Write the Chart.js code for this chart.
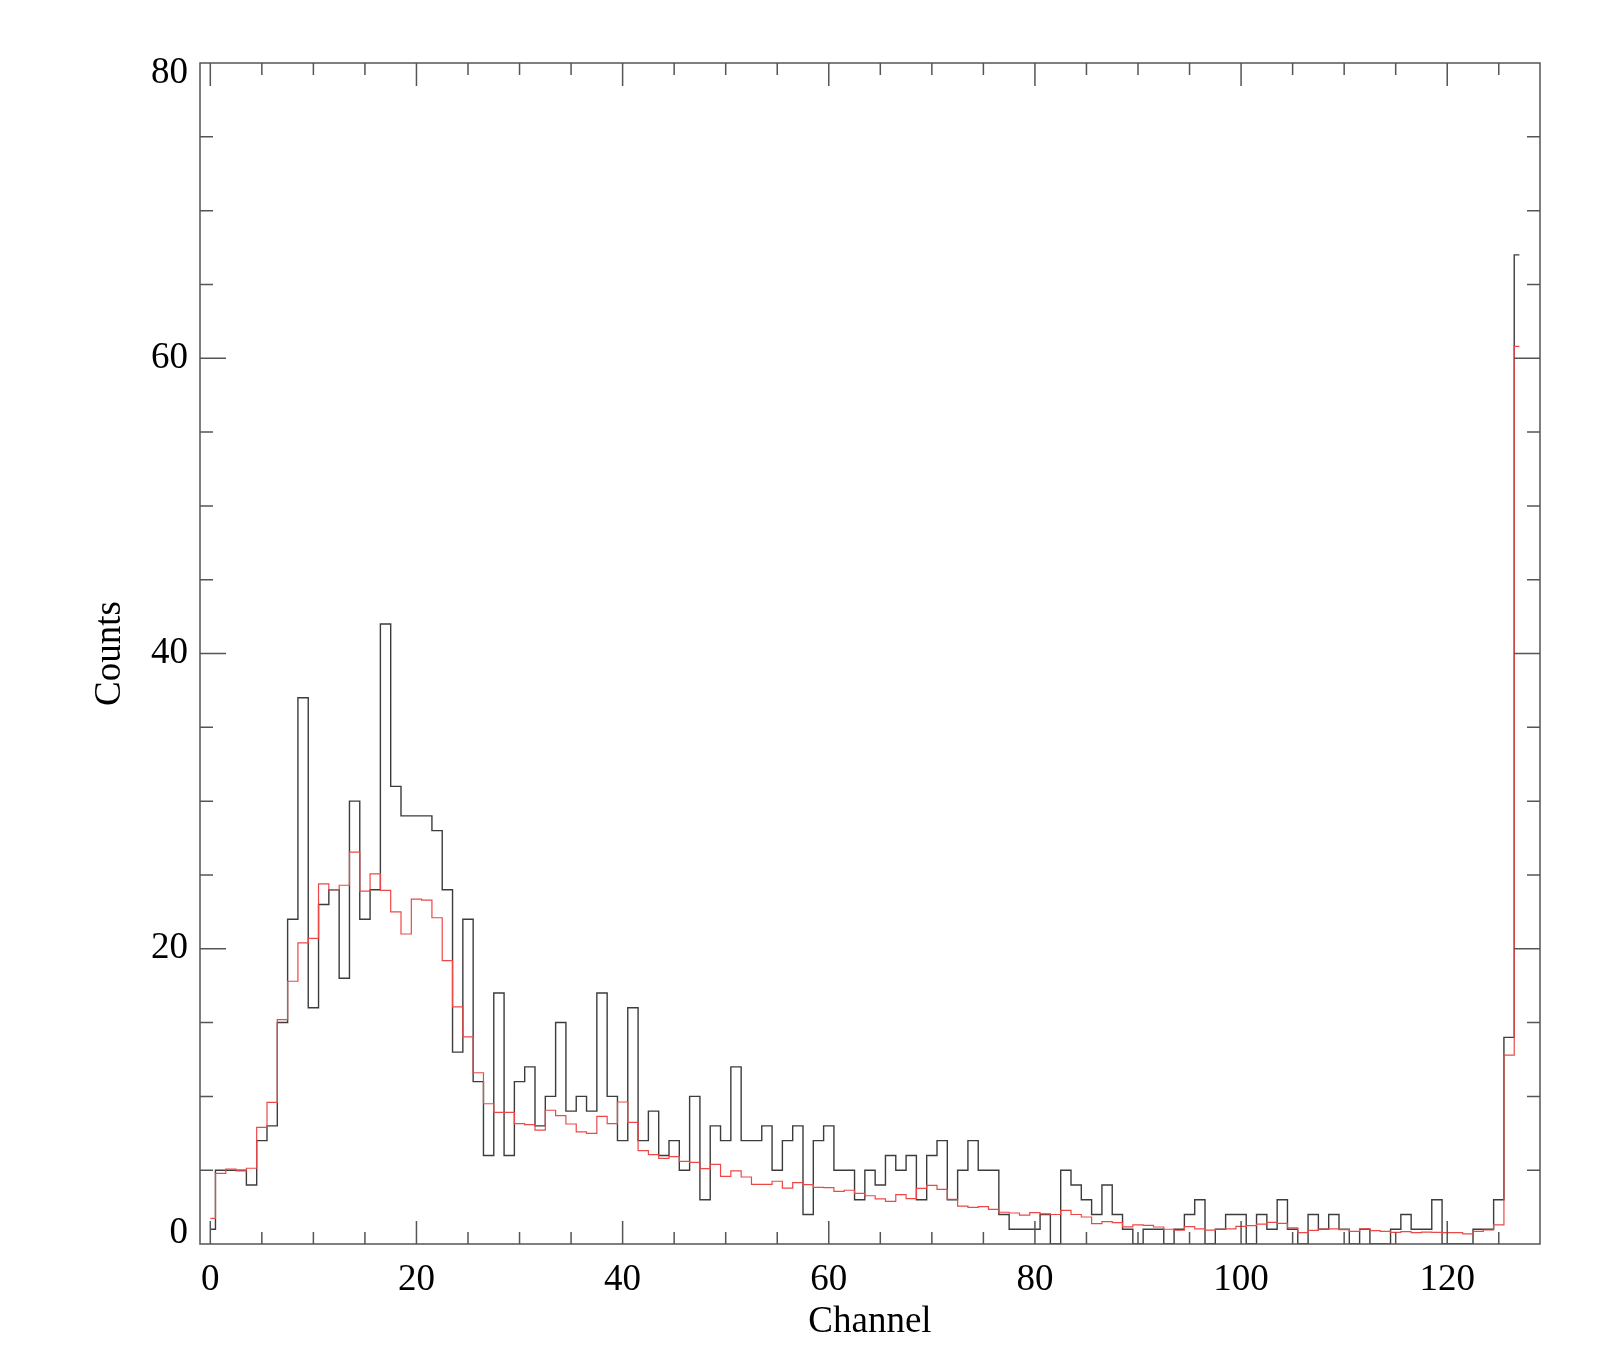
<!DOCTYPE html>
<html>
<head>
<meta charset="utf-8">
<title>Counts per channel</title>
<script src="https://cdn.jsdelivr.net/npm/chart.js@4.4.1/dist/chart.umd.min.js"></script>
<style>
  html, body { margin: 0; padding: 0; background: #fff; }
  #wrap { width: 1600px; height: 1371px; position: relative; }
</style>
</head>
<body>
<div id="wrap"><canvas id="spec"></canvas></div>
<script>
// observed counts per channel (0..127)
const counts = [
  1, 5, 5, 5, 4, 7, 8, 15, 22, 37,
  16, 23, 24, 18, 30, 22, 24, 42, 31, 29,
  29, 29, 28, 24, 13, 22, 11, 6, 17, 6,
  11, 12, 8, 10, 15, 9, 10, 9, 17, 10,
  7, 16, 7, 9, 6, 7, 5, 10, 3, 8,
  7, 12, 7, 7, 8, 5, 7, 8, 2, 7,
  8, 5, 5, 3, 5, 4, 6, 5, 6, 3,
  6, 7, 3, 5, 7, 5, 5, 2, 1, 1,
  1, 2, 0, 5, 4, 3, 2, 4, 2, 1,
  0, 1, 1, 0, 1, 2, 3, 0, 1, 2,
  2, 0, 2, 1, 3, 1, 0, 2, 1, 2,
  1, 0, 1, 0, 0, 1, 2, 1, 1, 3,
  0, 0, 0, 1, 1, 3, 14, 67
];

// model prediction per channel (0..127)
const model = [
  1.74, 4.79, 5.08, 4.96, 5.13, 7.9, 9.6, 15.2, 17.8, 20.4,
  20.7, 24.4, 24.0, 24.3, 26.55, 23.9, 25.07, 23.96, 22.5, 21.0,
  23.36, 23.3, 22.1, 19.2, 16.06, 14.03, 11.6, 9.5, 8.92, 8.92,
  8.15, 8.08, 7.72, 9.06, 8.7, 8.13, 7.59, 7.5, 8.65, 8.15,
  9.62, 8.24, 6.32, 6.05, 5.8, 5.92, 5.6, 5.53, 5.1, 5.4,
  4.58, 4.95, 4.54, 4.04, 4.04, 4.25, 3.79, 4.16, 4.02, 3.84,
  3.82, 3.57, 3.64, 3.43, 3.27, 3.05, 2.89, 3.34, 3.07, 3.77,
  3.97, 3.7, 3.03, 2.57, 2.48, 2.53, 2.35, 2.15, 2.1, 1.95,
  2.12, 2.04, 2.0, 2.28, 2.0, 1.83, 1.38, 1.52, 1.45, 1.16,
  1.3, 1.26, 1.15, 1.0, 0.93, 1.18, 1.02, 0.94, 1.0, 1.02,
  1.2, 1.25, 1.35, 1.46, 1.4, 1.09, 0.77, 0.92, 1.01, 1.03,
  0.98, 0.85, 1.02, 0.9, 0.86, 0.79, 0.84, 0.77, 0.81, 0.79,
  0.77, 0.77, 0.68, 0.86, 0.95, 1.29, 12.8, 60.8
];

const xTicks = [0, 20, 40, 60, 80, 100, 120];
const yTicks = [0, 20, 40, 60, 80];
const xRange = [-1, 129];
const yRange = [0, 80];

const toPoints = arr => arr.map((v, i) => ({ x: i, y: v }));
const FONT = "'Liberation Serif', 'DejaVu Serif', serif";

// IDL style box with inward ticks on all four sides, y labels kept inside the range
const boxTicks = {
  id: 'boxTicks',
  afterDatasetsDraw(chart) {
    const { ctx, chartArea: a, scales: { x, y } } = chart;
    ctx.save();
    ctx.strokeStyle = '#555';
    ctx.lineWidth = 1.5;
    ctx.strokeRect(a.left, a.top, a.right - a.left, a.bottom - a.top);
    ctx.beginPath();
    for (let v = 0; v <= 125; v += 5) {
      const px = x.getPixelForValue(v);
      const len = v % 20 === 0 ? 23 : 12;
      ctx.moveTo(px, a.bottom); ctx.lineTo(px, a.bottom - len);
      ctx.moveTo(px, a.top); ctx.lineTo(px, a.top + len);
    }
    for (let v = 5; v < 80; v += 5) {
      const py = y.getPixelForValue(v);
      const len = v % 20 === 0 ? 26 : 13;
      ctx.moveTo(a.left, py); ctx.lineTo(a.left + len, py);
      ctx.moveTo(a.right, py); ctx.lineTo(a.right - len, py);
    }
    ctx.stroke();

    ctx.fillStyle = '#000';
    ctx.font = '37px ' + FONT;
    ctx.textAlign = 'right';
    ctx.textBaseline = 'middle';
    yTicks.forEach(v => {
      let py = y.getPixelForValue(v);
      if (v === yRange[0]) py -= 11;
      if (v === yRange[1]) py += 10;
      ctx.fillText(String(v), a.left - 12, py);
    });
    ctx.restore();
  }
};

Chart.defaults.font.family = FONT;
Chart.defaults.color = '#000';

new Chart(document.getElementById('spec'), {
  type: 'line',
  data: {
    datasets: [
      {
        label: 'Model',
        data: toPoints(model),
        stepped: 'middle',
        borderColor: 'rgb(236, 72, 72)',
        borderWidth: 1.2,
        pointRadius: 0,
        fill: false
      },
      {
        label: 'Counts',
        data: toPoints(counts),
        stepped: 'middle',
        borderColor: 'rgb(60, 60, 60)',
        borderWidth: 1.4,
        pointRadius: 0,
        fill: false
      }
    ]
  },
  options: {
    responsive: true,
    maintainAspectRatio: false,
    animation: false,
    layout: { padding: { top: 63, right: 60, left: 0, bottom: 0 } },
    plugins: { legend: { display: false }, tooltip: { enabled: false } },
    scales: {
      x: {
        type: 'linear',
        min: xRange[0],
        max: xRange[1],
        afterBuildTicks: s => { s.ticks = xTicks.map(v => ({ value: v })); },
        afterFit: s => { s.height = 127; },
        grid: { display: false, drawTicks: false },
        border: { display: false },
        ticks: { font: { size: 37 }, padding: 14, maxRotation: 0 },
        title: {
          display: true,
          text: 'Channel',
          font: { size: 37 },
          padding: { top: 0, bottom: 27 }
        }
      },
      y: {
        type: 'linear',
        min: yRange[0],
        max: yRange[1],
        afterBuildTicks: s => { s.ticks = yTicks.map(v => ({ value: v })); },
        afterFit: s => { s.width = 200; },
        grid: { display: false, drawTicks: false },
        border: { display: false },
        ticks: { display: false },
        title: {
          display: true,
          text: 'Counts',
          font: { size: 37 },
          padding: { top: 88, bottom: 0 }
        }
      }
    }
  },
  plugins: [boxTicks]
});
</script>
</body>
</html>
